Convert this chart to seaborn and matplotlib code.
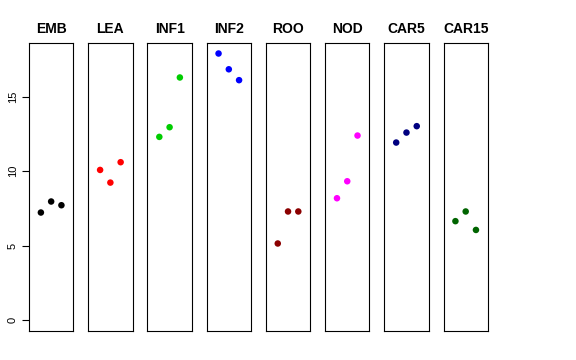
import numpy as np
import pandas as pd
import seaborn as sns
from matplotlib import pyplot as plt

sns.set_style('white')
plt.rcParams['font.family'] = ['Liberation Sans', 'DejaVu Sans']
plt.rcParams['text.color'] = 'black'
plt.rcParams['ytick.color'] = 'black'
plt.rcParams['ytick.labelcolor'] = 'black'

tissues = ['EMB', 'LEA', 'INF1', 'INF2', 'ROO', 'NOD', 'CAR5', 'CAR15']
colors = ['black', 'red', '#00CD00', 'blue', '#8B0000', 'magenta', '#000080', '#006400']
emb = [7.23, 7.97, 7.72]
lea = [10.09, 9.24, 10.61]
inf1 = [12.31, 12.96, 16.30]
inf2 = [17.91, 16.85, 16.12]
roo = [5.15, 7.30, 7.30]
nod = [8.19, 9.33, 12.40]
car5 = [11.93, 12.60, 13.03]
car15 = [6.65, 7.30, 6.06]
reps = [1, 2, 3]

vals = [emb, lea, inf1, inf2, roo, nod, car5, car15]
df = pd.DataFrame({'tissue': np.repeat(tissues, 3),
                   'rep': reps * len(tissues),
                   'expr': np.concatenate(vals)})

fig, axes = plt.subplots(1, 8, figsize=(5.76, 3.6), dpi=100, sharey=True)
fig.subplots_adjust(left=0.0503, right=0.847, bottom=0.081, top=0.881, wspace=0.335)

ymax = df['expr'].max()
for ax, t, c in zip(axes, tissues, colors):
    sub = df[df['tissue'] == t]
    sns.scatterplot(x='rep', y='expr', data=sub, ax=ax, color=c, s=22,
                    edgecolor='none', legend=False)
    ax.set_title(t, fontsize=10, fontweight='bold', pad=7, color='black')
    ax.set_xlim(-0.16, 4.16)
    ax.set_ylim(-0.04 * ymax, ymax * 1.04)
    ax.set_xticks([])
    ax.set_xlabel('')
    ax.set_ylabel('')
    for s in ax.spines.values():
        s.set_visible(True)
        s.set_color('black')
        s.set_linewidth(0.8)
    ax.tick_params(axis='y', left=False, labelleft=False)

axes[0].set_yticks([0, 5, 10, 15])
axes[0].tick_params(axis='y', left=True, labelleft=True, length=5, width=0.8,
                    color='black', labelcolor='black', labelsize=8, pad=3)
for lab in axes[0].get_yticklabels():
    lab.set_rotation(90)
    lab.set_va('center')

fig.savefig('out.png', dpi=100)
